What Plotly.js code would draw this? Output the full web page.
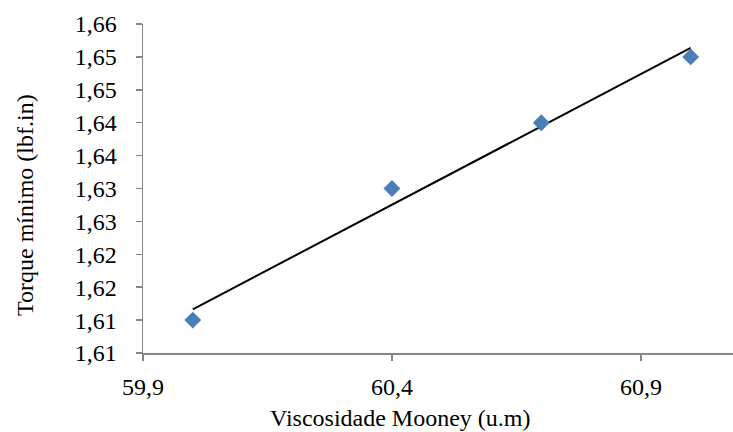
<!DOCTYPE html>
<html>
<head>
<meta charset="utf-8">
<script src="https://cdn.plot.ly/plotly-3.0.1.min.js"></script>
<style>html,body{margin:0;padding:0;background:#fff}#chart{width:733px;height:432px}</style>
</head>
<body>
<div id="chart"></div>
<script>
const mooney = [60.0, 60.4, 60.7, 61.0];
const torque = [1.61, 1.63, 1.64, 1.65];
const yTickVals = [1.605, 1.61, 1.615, 1.62, 1.625, 1.63, 1.635, 1.64, 1.645, 1.65, 1.655];
const yTickText = ["1,61","1,61","1,62","1,62","1,63","1,63","1,64","1,64","1,65","1,65","1,66"];
const xTitle = "Viscosidade Mooney (u.m)";
const yTitle = "Torque mínimo (lbf.in)";

// linear trendline (least squares) from the data
const n = mooney.length;
const mx = mooney.reduce((a,b)=>a+b,0)/n;
const my = torque.reduce((a,b)=>a+b,0)/n;
let sxy = 0, sxx = 0;
for (let i=0;i<n;i++){ sxy += (mooney[i]-mx)*(torque[i]-my); sxx += (mooney[i]-mx)**2; }
const slope = sxy/sxx, icpt = my - slope*mx;
const trendX = [Math.min(...mooney), Math.max(...mooney)];
const trendY = trendX.map(x => icpt + slope*x);

const mkFont = () => ({family: "Liberation Serif", size: 24, color: "#000000"});
function draw() {
  const data = [
    {x: trendX, y: trendY, mode: "lines", line: {color: "#000", width: 2}, hoverinfo: "skip", showlegend: false},
    {x: mooney, y: torque, mode: "markers", marker: {symbol: "diamond", size: 13, color: "#4A7EBB"}, showlegend: false}
  ];
  const layout = {
    width: 733, height: 432,
    margin: {l: 143, r: 0, t: 24, b: 79},
    paper_bgcolor: "#fff", plot_bgcolor: "#fff",
    separators: ",.",
    font: mkFont(),
    showlegend: false,
    xaxis: {
      range: [59.9, 61.085], tick0: 59.9, dtick: 0.5, tickformat: ".1f",
      showgrid: false, zeroline: false, showline: true, linecolor: "#868686", linewidth: 1.5,
      ticks: "outside", ticklen: 6, tickcolor: "#868686", tickwidth: 1.5,
      ticklabelstandoff: 6,
      tickfont: mkFont()
    },
    yaxis: {
      range: [1.605, 1.655], tickmode: "array", tickvals: yTickVals, ticktext: yTickText,
      showgrid: false, zeroline: false, showline: true, linecolor: "#868686", linewidth: 1.5,
      ticks: "outside", ticklen: 6, tickcolor: "#868686", tickwidth: 1.5,
      ticklabelstandoff: 14,
      tickfont: mkFont()
    },
    annotations: [
      {text: xTitle, xref: "paper", yref: "paper", x: 0.437, y: 0, yshift: -65, xanchor: "center", yanchor: "middle", showarrow: false, font: mkFont()},
      {text: yTitle, xref: "paper", yref: "paper", x: 0, xshift: -118, y: 0.45, xanchor: "center", yanchor: "middle", textangle: -90, showarrow: false, font: mkFont()}
    ]
  };
  Plotly.newPlot("chart", data, layout, {displayModeBar: false, staticPlot: true});
}
if (document.fonts && document.fonts.load) {
  document.fonts.load('24px "Liberation Serif"').then(draw, draw);
} else { draw(); }
</script>
</body>
</html>
